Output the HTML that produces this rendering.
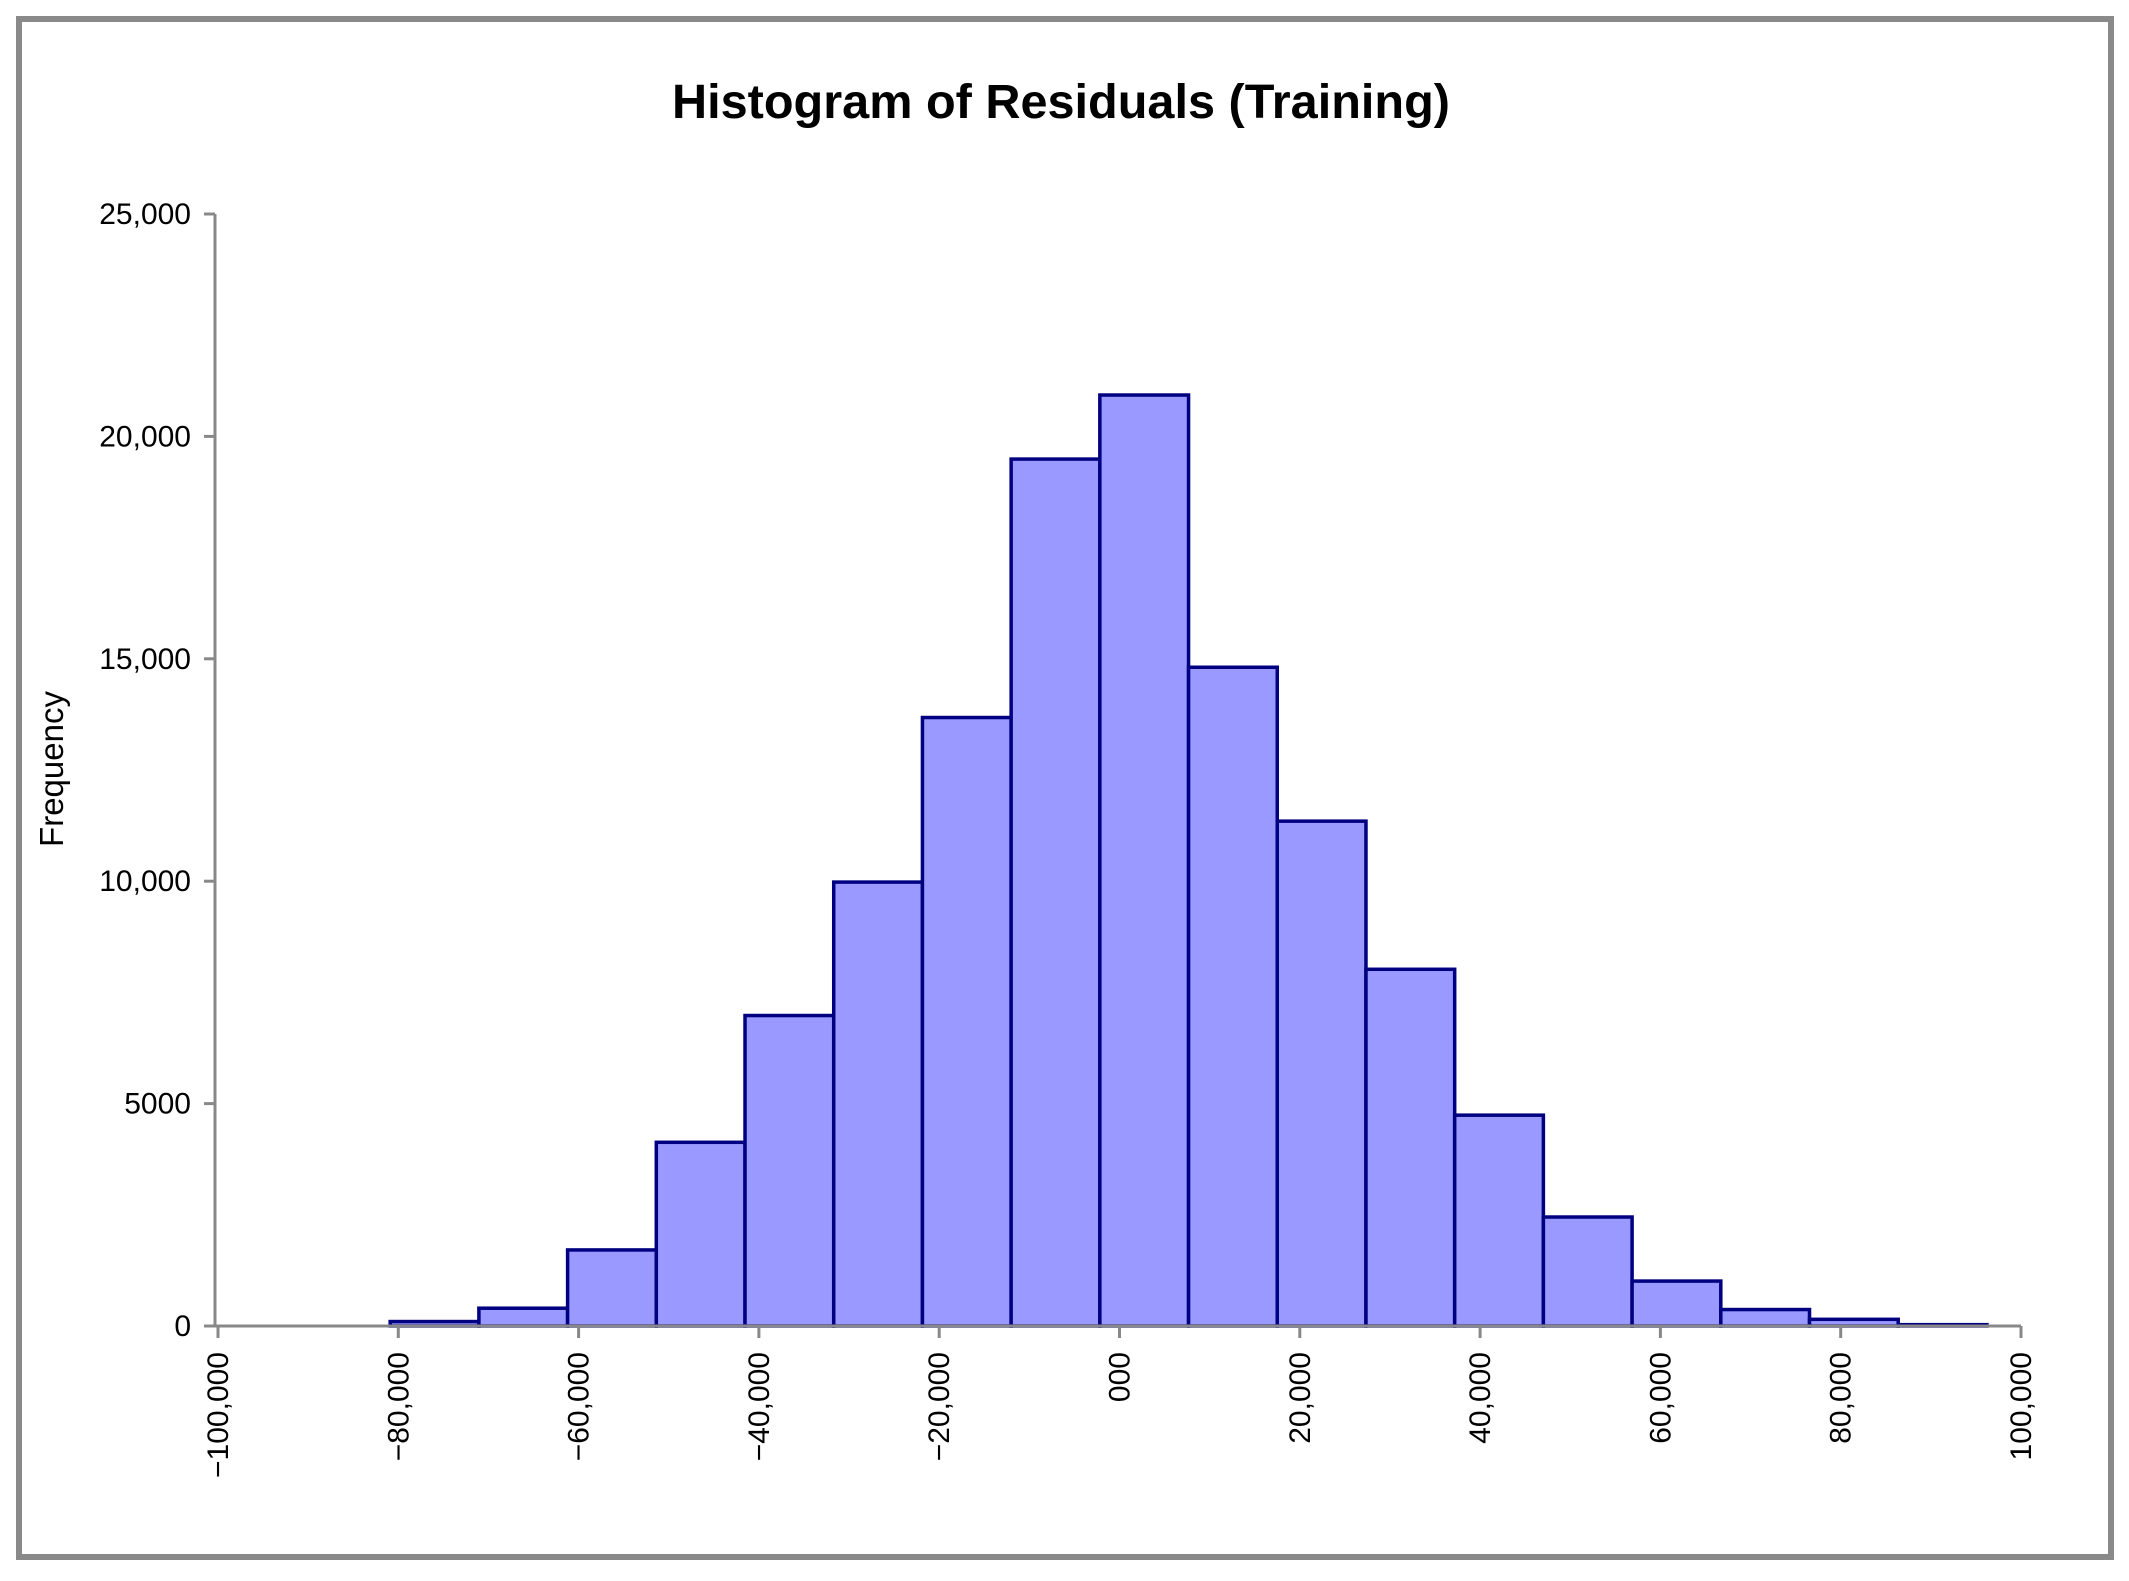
<!DOCTYPE html>
<html><head><meta charset="utf-8"><style>
html,body{margin:0;padding:0;background:#fff;}
svg{display:block;font-family:"Liberation Sans",Arial,sans-serif;}
</style></head><body>
<svg id="chart" width="2129" height="1581" viewBox="0 0 2129 1581">
<rect x="19" y="19" width="2092" height="1538" fill="#fff" stroke="#8a8a8a" stroke-width="6"/>
<text x="1061" y="118" text-anchor="middle" font-size="48" font-weight="bold" textLength="778" lengthAdjust="spacingAndGlyphs" fill="#000">Histogram of Residuals (Training)</text>
<text transform="translate(63,769) rotate(-90)" text-anchor="middle" font-size="33" fill="#000">Frequency</text>
<g id="bars"></g>
<g id="axes"></g>
</svg>
<script>
const binStart = -80900;
const binWidth = 9840;
const counts = [100, 400, 1710, 4130, 6980, 9980, 13680, 19490, 20930, 14810, 11350, 8020, 4740, 2450, 1010, 370, 150, 30];
const yTicks = [0, 5000, 10000, 15000, 20000, 25000];
const yTickLabels = ["0", "5000", "10,000", "15,000", "20,000", "25,000"];
const xTicks = [-100000, -80000, -60000, -40000, -20000, 0, 20000, 40000, 60000, 80000, 100000];
const xTickLabels = ["\u2212100,000", "\u221280,000", "\u221260,000", "\u221240,000", "\u221220,000", "000", "20,000", "40,000", "60,000", "80,000", "100,000"];

const NS = "http://www.w3.org/2000/svg";
const X0 = 218, X1 = 2021, Y0 = 1326, Y1 = 214;
function xs(v){ return X0 + (v + 100000) / 200000 * (X1 - X0); }
function ys(v){ return Y0 - v / 25000 * (Y0 - Y1); }
function mk(tag, attrs){ const e = document.createElementNS(NS, tag); for (const k in attrs) e.setAttribute(k, attrs[k]); return e; }

const bars = document.getElementById('bars');
counts.forEach((c, i) => {
  const xa = xs(binStart + i * binWidth), xb = xs(binStart + (i + 1) * binWidth);
  const r = mk('rect', {x: xa, y: ys(c), width: xb - xa, height: Y0 - ys(c), fill: '#9999ff', stroke: '#000080', 'stroke-width': 3.5});
  
  
  bars.appendChild(r);
});

const axes = document.getElementById('axes');
const yl = mk('line', {x1: 215, y1: Y1, x2: 215, y2: Y0, stroke: '#888', 'stroke-width': 3});


axes.appendChild(yl);
const xl = mk('line', {x1: 204, y1: Y0, x2: X1, y2: Y0, stroke: '#888', 'stroke-width': 3});


axes.appendChild(xl);
yTicks.forEach((v, i) => {
  const y = ys(v);
  const t = mk('line', {x1: 204, y1: y, x2: 215, y2: y, stroke: '#888', 'stroke-width': 3});
  
  
  axes.appendChild(t);
  const l = mk('text', {x: 191, y: y + 10, 'text-anchor': 'end', 'font-size': 30, fill: '#000'});
  l.textContent = yTickLabels[i];
  
  
  axes.appendChild(l);
});
xTicks.forEach((v, i) => {
  const x = xs(v);
  const t = mk('line', {x1: x, y1: Y0, x2: x, y2: Y0 + 12, stroke: '#888', 'stroke-width': 3});
  
  
  axes.appendChild(t);
  const l = mk('text', {transform: 'translate(' + (x + 10) + ',1352) rotate(-90)', 'text-anchor': 'end', 'font-size': 30, fill: '#000'});
  l.textContent = xTickLabels[i];
  
  
  axes.appendChild(l);
});
</script>
</body></html>
